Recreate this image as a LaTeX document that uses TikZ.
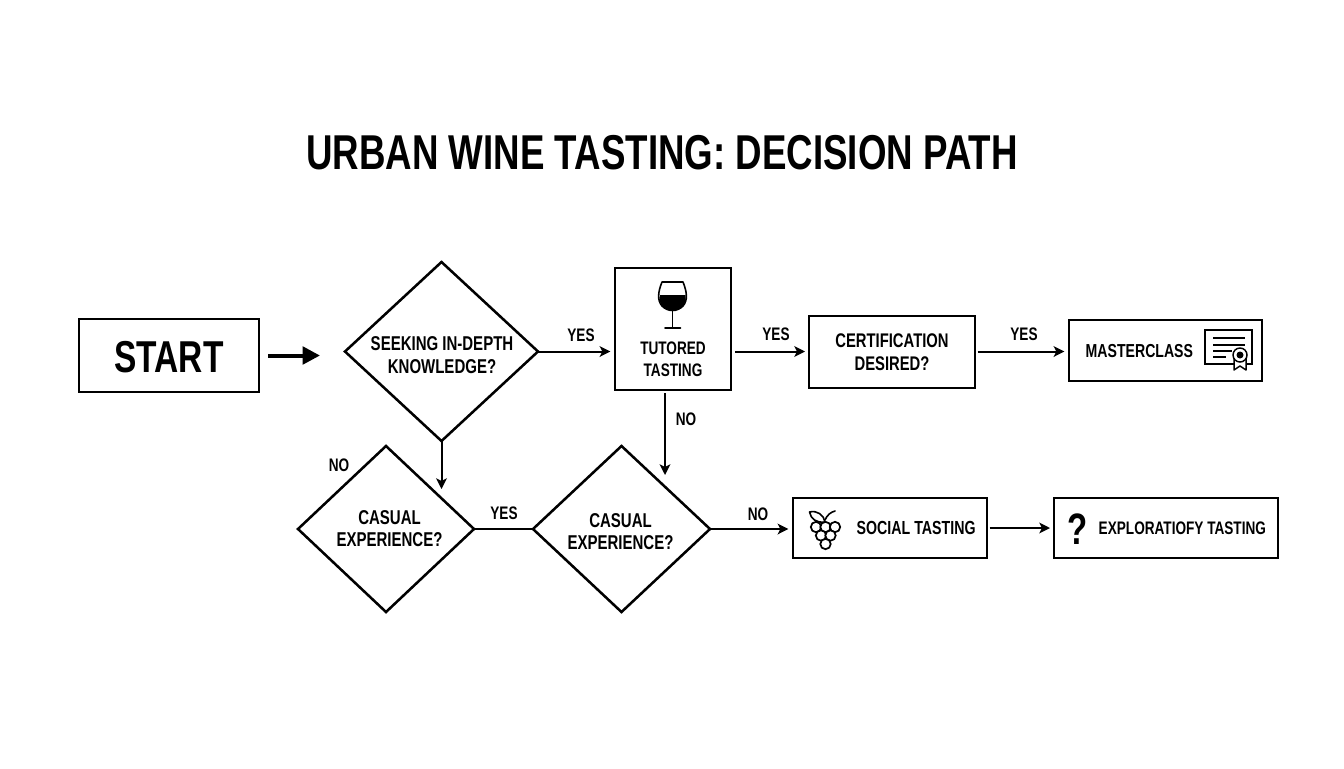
\documentclass[tikz,border=0pt]{standalone}
\usepackage{fontspec}
\setmainfont{Liberation Sans}[FakeStretch=0.75]
\usetikzlibrary{shapes.geometric,arrows.meta}

\tikzset{
  stepbox/.style={draw,line width=2.1pt,inner sep=0pt,outer sep=0pt},
  decision/.style={draw,diamond,line width=1.9pt,inner sep=0pt,outer sep=0pt},
  boxtext/.style={font=\bfseries\fontsize{13.6}{16.6}\selectfont,align=center},
  widetext/.style={font=\bfseries\fontsize{15}{17}\selectfont,align=center},
  flowlabel/.style={font=\bfseries\fontsize{13.6}{16}\selectfont},
  flow/.style={line width=1.5pt,-{Stealth[length=8pt,width=8pt,inset=2pt]}},
  plainflow/.style={line width=1.5pt},
  icon/.style={line width=1.2pt,line cap=round,line join=round}
}

\begin{document}
\begin{tikzpicture}[x=0.75pt,y=0.75pt,yscale=-1,xscale=1]
\useasboundingbox (0,0) rectangle (1344,768);

% Title
\node (title) at (662,153) {\bfseries\fontsize{36.7}{40}\selectfont URBAN WINE TASTING: DECISION PATH};

% Boxes
\node[stepbox,minimum width=135pt,minimum height=54.75pt] (start) at (169,355.5) {};
\node[font=\bfseries\fontsize{33.5}{38}\selectfont] (starttext) at (169,357) {START};
\node[stepbox,minimum width=87pt,minimum height=91.5pt] (tutored) at (673,329) {};
\node[stepbox,widetext,font=\bfseries\fontsize{14.8}{17}\selectfont,minimum width=124.5pt,minimum height=54pt] (cert) at (892,352) {CERTIFICATION\\DESIRED?};
\node[stepbox,minimum width=144.75pt,minimum height=45.75pt] (master) at (1165.5,350.5) {};
\node[stepbox,minimum width=145.5pt,minimum height=45pt] (social) at (890,528) {};
\node[stepbox,minimum width=168pt,minimum height=45pt] (explore) at (1166,528) {};

% Diamonds
\node[decision,aspect=1.08,minimum width=144.75pt,minimum height=134.25pt] (seek) at (441.5,351.5) {};
\node[decision,aspect=1.06,minimum width=132pt,minimum height=124.5pt] (casualA) at (386,529) {};
\node[decision,aspect=1.06,minimum width=132.75pt,minimum height=124.5pt] (casualB) at (621.5,529) {};

% Text Node
\node[widetext] (seektext) at (442,355) {SEEKING IN-DEPTH\\KNOWLEDGE?};
\node[widetext] (casualAtext) at (389.5,528.5) {CASUAL\\EXPERIENCE?};
\node[widetext] (casualBtext) at (620.5,531.5) {CASUAL\\EXPERIENCE?};
\node[boxtext] (tutoredtext) at (673,359) {TUTORED\\TASTING};
\node[boxtext,font=\bfseries\fontsize{14.1}{17}\selectfont,anchor=west] (mastertext) at (1081,351) {MASTERCLASS};
\node[boxtext,font=\bfseries\fontsize{14.2}{17}\selectfont,anchor=west] (socialtext) at (852,528) {SOCIAL TASTING};
\node[boxtext,anchor=west] (exploretext) at (1094,528) {EXPLORATIOFY TASTING};
\node[font=\bfseries\fontsize{33}{38}\selectfont] (qmark) at (1077.5,529) {?};

\node[flowlabel] (yesA) at (581,335) {YES};
\node[flowlabel] (yesB) at (776,334) {YES};
\node[flowlabel] (yesC) at (1024,334) {YES};
\node[flowlabel] (noA) at (686,419) {NO};
\node[flowlabel] (noB) at (339,465) {NO};
\node[flowlabel] (yesD) at (504,513) {YES};
\node[flowlabel] (noC) at (758,514) {NO};

% Free ends
\coordinate (seekout) at (441.5,489);
\coordinate (tutoredout) at (665,393);
\coordinate (tutoredin) at (665,475);

% Connection
\draw[line width=3pt,-{Stealth[length=13pt,width=13pt,inset=0pt]},shorten <=6.75pt,shorten >=18.75pt] (start.east) -- (start.east -| seek.west);
\draw[flow,shorten >=3.5pt] (seek.east) -- (seek.east -| tutored.west);
\draw[flow,shorten <=3pt,shorten >=3pt] (seek.east -| tutored.east) -- (seek.east -| cert.west);
\draw[flow,shorten <=2pt,shorten >=3.5pt] (seek.east -| cert.east) -- (seek.east -| master.west);
\draw[flow] (seek.south) -- (seekout);
\draw[flow] (tutoredout) -- (tutoredin);
\draw[plainflow] (casualA.east) -- (casualB.west);
\draw[flow,shorten >=3.5pt] (casualB.east) -- (casualB.east -| social.west);
\draw[flow,shorten <=2pt,shorten >=3pt] (social.east) -- (explore.west);

% Wine glass
\draw[icon] (662,282) -- (683,282) .. controls (687,292) and (688,300) .. (683,306) .. controls (677,312) and (668,312) .. (662,306) .. controls (657,300) and (658,292) .. (662,282) -- cycle;
\fill (660,295) -- (685.5,295) .. controls (686,300) and (685,303) .. (683,306) .. controls (677,312) and (668,312) .. (662,306) .. controls (660,303) and (659,300) .. (660,295) -- cycle;
\draw[icon] (672.5,310) -- (672.5,328) (665,328) -- (680.5,328);

% Certificate
\draw[line width=1.2pt] (1205,330) rectangle (1252,364);
\draw[line width=1.3pt] (1213,338) -- (1245,338) (1213,345) -- (1245,345) (1213,351) -- (1232,351) (1213,357) -- (1226,357);
\draw[line width=1.1pt,fill=white,line join=round] (1234,358) -- (1234,370) -- (1240,366) -- (1246,370) -- (1246,358) -- cycle;
\draw[line width=1.1pt,fill=white] (1240,355) circle[radius=7];
\fill (1240,355) circle[radius=3.5];

% Grapes
\foreach \gx/\gy in {816/527,825.5/527,835/527,821/535.5,830.5/535.5,825.5/544}
  \draw[line width=1.3pt,fill=white] (\gx,\gy) circle[radius=5.2];
\draw[icon] (809.5,512) .. controls (817,510) and (824,515) .. (825,522) .. controls (816,523) and (811,519) .. (809.5,512) -- cycle;
\draw[icon] (825,520) .. controls (827,515) and (831,512) .. (835,511);

\end{tikzpicture}
\end{document}
